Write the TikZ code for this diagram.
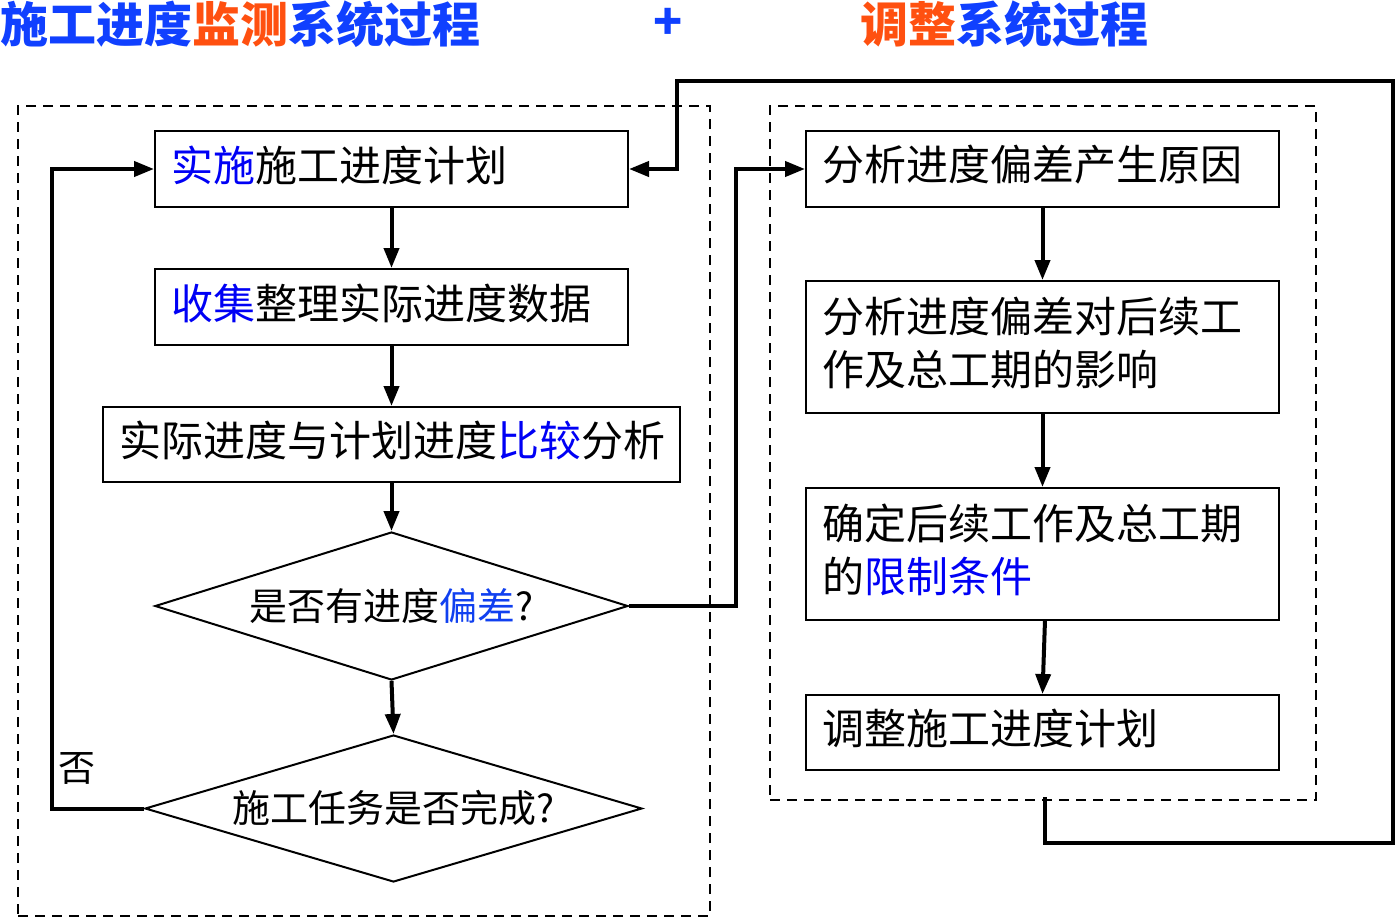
\documentclass[tikz,border=0pt]{standalone}
\usepackage{fontspec}
\newfontfamily\cjk{Noto Sans CJK SC}
\usetikzlibrary{arrows.meta,shapes.geometric}
\definecolor{tblue}{RGB}{16,64,255}
\definecolor{torange}{RGB}{255,80,16}
\definecolor{kblue}{RGB}{0,0,245}
\definecolor{kblue2}{RGB}{16,64,240}
\tikzset{
  title/.style={inner sep=0pt, anchor=west, font=\cjk\bfseries\fontsize{48}{56}\selectfont},
  box/.style={draw=black, line width=2pt, inner xsep=16pt, inner ysep=0pt, align=left,
    font=\cjk\fontsize{42}{53}\selectfont, execute at end node={\par\vspace{8pt}}},
  dia/.style={draw=black, line width=2pt, shape=diamond, inner sep=0pt,
    font=\cjk\fontsize{38}{44}\selectfont},
  frame/.style={draw=black, line width=2.2pt, dash pattern=on 10pt off 7pt, inner sep=0pt},
  conn/.style={line width=4pt, line join=miter, -{Triangle[length=20pt,width=15pt]}},
}
\begin{document}
\begin{tikzpicture}[x=1pt,y=-1pt]
\useasboundingbox (0,0) rectangle (1397,918);
% titles
\node[title] (t1) at (0,24) {\textcolor{tblue}{施工进度}\textcolor{torange}{监测}\textcolor{tblue}{系统过程}};
\node[title, anchor=center, text=tblue] (plus) at (668,24) {+};
\node[title] (t2) at (860,24) {\textcolor{torange}{调整}\textcolor{tblue}{系统过程}};
% frames
\node[frame, minimum width=692pt, minimum height=810pt] (lframe) at (364,511) {};
\node[frame, minimum width=546pt, minimum height=694pt] (rframe) at (1043,453) {};
% left column
\node[box, text width=441pt, minimum height=76pt] (b1) at (391.5,169) {\textcolor{kblue}{实施}施工进度计划};
\node[box, text width=441pt, minimum height=76pt] (b2) at (391.5,307) {\textcolor{kblue}{收集}整理实际进度数据};
\node[box, text width=545pt, minimum height=75pt] (b3) at (391.5,444.5) {实际进度与计划进度\textcolor{kblue}{比较}分析};
\node[dia, minimum width=473pt, minimum height=148pt, shape aspect=3.2] (d1) at (391.5,606) {是否有进度\textcolor{kblue2}{偏差}?};
\node[dia, minimum width=497pt, minimum height=147pt, shape aspect=3.38] (d2) at (393.5,808.5) {施工任务是否完成?};
\node[inner sep=0pt, font=\cjk\fontsize{37}{44}\selectfont] (no) at (77,768) {否};
% right column
\node[box, text width=441pt, minimum height=76pt] (r1) at (1042.5,169) {分析进度偏差产生原因};
\node[box, text width=441pt, minimum height=132pt] (r2) at (1042.5,347) {分析进度偏差对后续工\\作及总工期的影响};
\node[box, text width=441pt, minimum height=132pt] (r3) at (1042.5,554) {确定后续工作及总工期\\的\textcolor{kblue}{限制条件}};
\node[box, text width=441pt, minimum height=75pt] (r4) at (1042.5,732.5) {调整施工进度计划};
\coordinate (fb) at (1045,797);
% connectors
\draw[conn] (b1.south) -- (b2.north);
\draw[conn] (b2.south) -- (b3.north);
\draw[conn] (b3.south) -- (d1.north);
\draw[conn] (d1.south) -- (d2.north);
\draw[conn] (d2.west) -- (52,808.5) |- (b1.west);
\draw[conn] (d1.east) -- (736,606) |- (r1.west);
\draw[conn] (r1.south) -- (r2.north);
\draw[conn] (r2.south) -- (r3.north);
\draw[conn] (1045,620) -- (r4.north);
\draw[conn] (fb) -- (1045,843) -- (1393,843) -- (1393,81) -- (677,81) |- (b1.east);
\end{tikzpicture}
\end{document}
